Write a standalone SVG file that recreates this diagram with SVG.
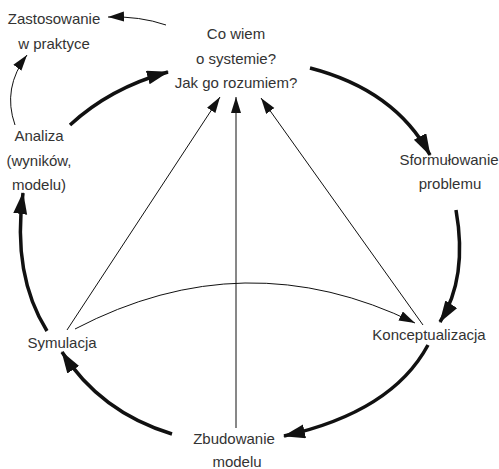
<svg xmlns="http://www.w3.org/2000/svg" width="499" height="469" viewBox="0 0 499 469">
<style>
text{font-family:"Liberation Sans",Arial,sans-serif;font-size:15px;fill:#333;text-anchor:middle}
.thick{fill:none;stroke:#111;stroke-width:3.5;marker-end:url(#big)}
.thin{fill:none;stroke:#111;stroke-width:1;marker-end:url(#small)}
</style>
<defs>
<marker id="big" markerUnits="userSpaceOnUse" markerWidth="24" markerHeight="16" refX="21" refY="7" orient="auto"><path d="M0,0 L22,7 L0,14 z" fill="#111"/></marker>
<marker id="small" markerUnits="userSpaceOnUse" markerWidth="18" markerHeight="12" refX="16" refY="5" orient="auto"><path d="M0,0 L16,5 L0,10 z" fill="#111"/></marker>
</defs>
<rect width="499" height="469" fill="#fff"/>
<g id="connectors">
<path class="thin" d="M166,25 Q140,16 108,17"/>
<path class="thin" d="M15,125 Q2,88 27,55"/>
<path class="thick" d="M70,125 Q110,88 168,72"/>
<path class="thick" d="M310,68 Q395,90 430,155"/>
<path class="thick" d="M456,210 Q468,278 440,322"/>
<path class="thick" d="M428,345 Q392,412 284,436"/>
<path class="thick" d="M172,434 Q100,412 62,352"/>
<path class="thick" d="M47,331 Q12,275 23,193"/>
<path class="thin" d="M67,330 L220,97"/>
<path class="thin" d="M236,428 L236,97"/>
<path class="thin" d="M423,325 L261,98"/>
<path class="thin" d="M75,329 Q245,240 415,323"/>
</g>
<g id="n-zastosowanie"><text x="54" y="24">Zastosowanie</text><text x="54" y="49">w praktyce</text></g>
<g id="n-co-wiem"><text x="236" y="39">Co wiem</text><text x="236" y="64">o systemie?</text><text x="236" y="88">Jak go rozumiem?</text></g>
<g id="n-sformulowanie"><text x="449" y="165">Sformułowanie</text><text x="450" y="189">problemu</text></g>
<g id="n-analiza"><text x="39" y="141">Analiza</text><text x="39" y="166">(wyników,</text><text x="39" y="190">modelu)</text></g>
<g id="n-symulacja"><text x="62" y="348">Symulacja</text></g>
<g id="n-konceptualizacja"><text x="429" y="340">Konceptualizacja</text></g>
<g id="n-zbudowanie"><text x="234" y="444">Zbudowanie</text><text x="237" y="467">modelu</text></g>
</svg>
